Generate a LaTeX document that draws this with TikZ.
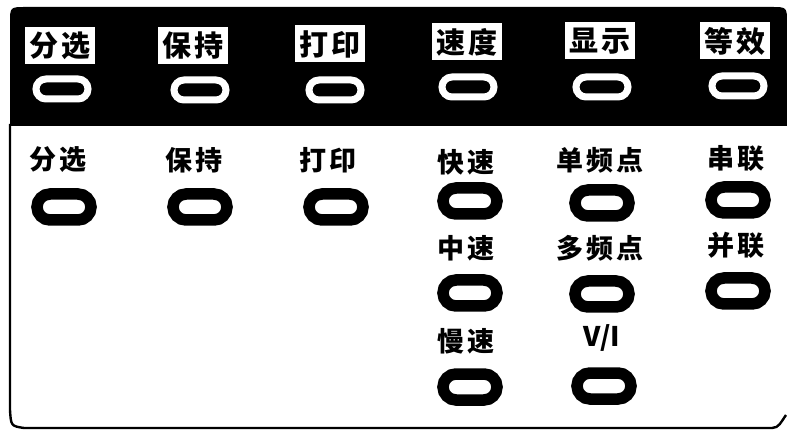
\documentclass[tikz,border=0pt]{standalone}
\usepackage{fontspec}
\newfontfamily\cjk{Noto Sans CJK SC}
\newcommand\kg{\kern3pt}
\newcommand\tg{\kern4pt}
\begin{document}
\begin{tikzpicture}[x=1pt,y=-1pt,
  toplab/.style={fill=white,text=black,inner xsep=4pt,inner ysep=2pt,minimum height=37pt,
    font=\cjk\bfseries\fontsize{29}{29}\selectfont},
  lab/.style={text=black,inner sep=0pt,font=\cjk\bfseries\fontsize{27}{27}\selectfont},
  topkey/.style={draw=white,line width=7pt,rounded corners=10pt,minimum width=52pt,minimum height=20pt,inner sep=0pt},
  key/.style={draw=black,line width=11.5pt,rounded corners=13pt,minimum width=54pt,minimum height=26pt,inner sep=0pt}]
\useasboundingbox (0,0) rectangle (787,430);
% top black band
\fill[black] (10,126) -- (10,23) .. controls (10,7) .. (26,7) -- (771,7) .. controls (787,7) .. (787,23) -- (787,126) -- cycle;
% frame of lower part
\draw[line width=2.4pt] (10,124) -- (10,410) .. controls (11,426) .. (24,428) -- (772,428)
  .. controls (779,428) and (781,422) .. (786,415);
% top labels
\node[toplab] (t1) at (60,46) {分\tg 选};
\node[toplab] (t2) at (193,46) {保\tg 持};
\node[toplab] (t3) at (330,44) {打\tg 印};
\node[toplab] (t4) at (467,42) {速\tg 度};
\node[toplab] (t5) at (600,41) {显\tg 示};
\node[toplab] (t6) at (735,41) {等\tg 效};
% top keys
\node[topkey] (tk1) at (62,89) {};
\node[topkey] (tk2) at (200,90) {};
\node[topkey] (tk3) at (335,90) {};
\node[topkey] (tk4) at (468,87) {};
\node[topkey] (tk5) at (602,87) {};
\node[topkey] (tk6) at (738,86) {};
% lower labels
\node[lab] (l1) at (58,160) {分\kg 选};
\node[lab] (l2) at (194,160) {保\kg 持};
\node[lab] (l3) at (328,160) {打\kg 印};
\node[lab] (l4) at (466,162) {快\kg 速};
\node[lab] (l5) at (600,160) {单\kg 频\kg 点};
\node[lab] (l6) at (736,158) {串\kg 联};
\node[lab] (l7) at (466,248) {中\kg 速};
\node[lab] (l8) at (600,248) {多\kg 频\kg 点};
\node[lab] (l9) at (736,245) {并\kg 联};
\node[lab] (l10) at (466,341) {慢\kg 速};
\node[lab] (l11) at (602,338) {V/I};
% lower keys
\node[key] (k1) at (64,207) {};
\node[key] (k2) at (200,207) {};
\node[key] (k3) at (336,207) {};
\node[key] (k4) at (470,201) {};
\node[key] (k5) at (602,203) {};
\node[key] (k6) at (738,200) {};
\node[key] (k7) at (470,293) {};
\node[key] (k8) at (602,294) {};
\node[key] (k9) at (738,291) {};
\node[key] (k10) at (470,387) {};
\node[key] (k11) at (604,386) {};
\end{tikzpicture}
\end{document}
